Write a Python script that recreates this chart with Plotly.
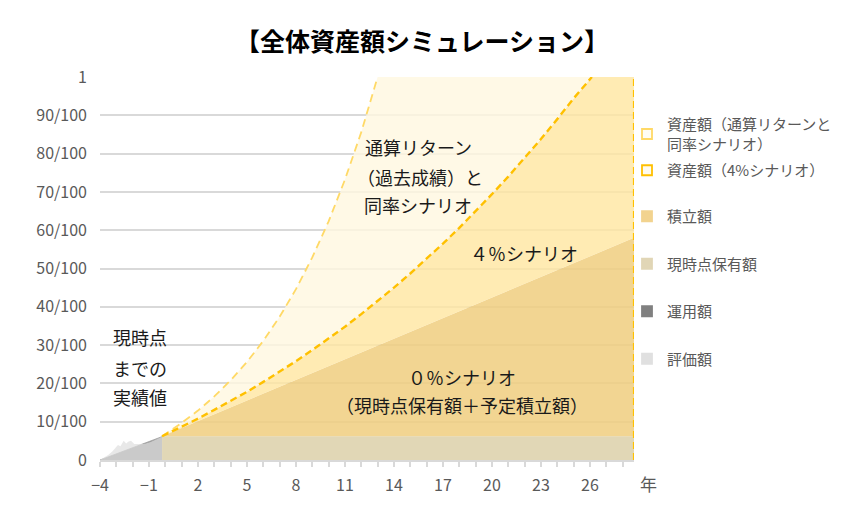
import plotly.graph_objects as go

FONT = "Noto Sans CJK JP"

title_text = "【全体資産額シミュレーション】"

# ---- historical (actual) period ----
x_hist = [-4.0, -3.5, -3.25, -3.0, -2.9, -2.75, -2.55, -2.4, -2.25, -2.1, -1.9, -1.6, -1.3, -0.9, -0.5, -0.2]
hyoka = [0.0, 0.013, 0.022, 0.035, 0.039, 0.036, 0.050, 0.043, 0.048, 0.050, 0.042, 0.042, 0.042, 0.047, 0.054, 0.061]
unyo = [0.0, 0.008, 0.012, 0.016, 0.0175, 0.020, 0.023, 0.0255, 0.028, 0.030, 0.033, 0.038, 0.043, 0.049, 0.055, 0.061]

# ---- projection period ----
x_proj = [-0.2, 1, 2, 3, 4, 5, 6, 7, 8, 9, 10, 11, 12, 13, 14, 15, 16, 17, 18, 19, 20,
          21, 22, 23, 24, 25, 26, 26.12, 27, 28, 28.7]
holding = [0.062, 0.062, 0.062, 0.062, 0.062, 0.062, 0.062, 0.062, 0.062, 0.062, 0.062,
           0.062, 0.062, 0.062, 0.062, 0.062, 0.062, 0.062, 0.062, 0.062, 0.062,
           0.062, 0.062, 0.062, 0.062, 0.062, 0.062, 0.062, 0.062, 0.062, 0.062]
tsumitate = [0.0, 0.0215, 0.039, 0.057, 0.075, 0.093, 0.111, 0.129, 0.147, 0.165, 0.183,
             0.201, 0.219, 0.237, 0.254, 0.272, 0.290, 0.308, 0.326, 0.344, 0.362,
             0.380, 0.398, 0.416, 0.434, 0.452, 0.470, 0.472, 0.487, 0.505, 0.518]
scen4 = [0.062, 0.087, 0.108, 0.131, 0.154, 0.178, 0.204, 0.230, 0.258, 0.287, 0.317,
         0.348, 0.381, 0.415, 0.450, 0.487, 0.525, 0.565, 0.606, 0.649, 0.694,
         0.740, 0.788, 0.838, 0.890, 0.944, 0.994, 1.0, 1.0, 1.0, 1.0]
scen_hist = [0.062, 0.097, 0.129, 0.166, 0.208, 0.256, 0.311, 0.374, 0.446, 0.529, 0.623,
             0.732, 0.856, 1.0, 1.0, 1.0, 1.0, 1.0, 1.0, 1.0, 1.0,
             1.0, 1.0, 1.0, 1.0, 1.0, 1.0, 1.0, 1.0, 1.0, 1.0]

y_tickvals = [0, 0.1, 0.2, 0.3, 0.4, 0.5, 0.6, 0.7, 0.8, 0.9, 1.0]
y_ticktext = ["0", "10/100", "20/100", "30/100", "40/100", "50/100", "60/100",
              "70/100", "80/100", "90/100", "1"]

legend_names = ["資産額（通算リターンと<br>同率シナリオ）", "資産額（4%シナリオ）",
                "積立額", "現時点保有額", "運用額", "評価額"]

tsumitate_top = [h + t for h, t in zip(holding, tsumitate)]


def line_part(vals):
    out = []
    reached = False
    for v in vals:
        out.append(None if reached else v)
        if v >= 1.0:
            reached = True
    return out


fig = go.Figure()

# historical areas
fig.add_trace(go.Scatter(x=x_hist, y=unyo, mode="lines", line=dict(width=0.8, color="#999999"),
                         fill="tozeroy", fillcolor="#999999", showlegend=False, hoverinfo="skip"))
fig.add_trace(go.Scatter(x=x_hist, y=hyoka, mode="lines", line=dict(width=0),
                         fill="tozeroy", fillcolor="rgba(222,222,222,0.7)", showlegend=False,
                         hoverinfo="skip"))

# projection areas
fig.add_trace(go.Scatter(x=x_proj, y=holding, mode="lines", line=dict(width=0),
                         fill="tozeroy", fillcolor="rgba(220,208,169,0.85)", showlegend=False))
fig.add_trace(go.Scatter(x=x_proj, y=tsumitate_top, mode="lines", line=dict(width=0),
                         fill="tonexty", fillcolor="rgba(240,206,127,0.85)", showlegend=False))
fig.add_trace(go.Scatter(x=x_proj, y=scen4, mode="lines", line=dict(width=0),
                         fill="tonexty", fillcolor="rgba(255,230,160,0.8)", showlegend=False))
fig.add_trace(go.Scatter(x=x_proj, y=scen_hist, mode="lines", line=dict(width=0),
                         fill="tonexty", fillcolor="rgba(255,247,224,0.8)", showlegend=False))

# dashed lines
fig.add_trace(go.Scatter(x=x_proj, y=line_part(scen_hist), mode="lines",
                         line=dict(color="#FFD966", width=1.8, dash="8px,5px"),
                         showlegend=False, connectgaps=False))
fig.add_trace(go.Scatter(x=x_proj, y=line_part(scen4), mode="lines",
                         line=dict(color="#FFC000", width=2.4, dash="7px,4px"),
                         showlegend=False, connectgaps=False))
fig.add_trace(go.Scatter(x=[x_proj[-1], x_proj[-1]], y=[0, scen4[-1]], mode="lines",
                         line=dict(color="#FFC000", width=2.2, dash="7px,4px"),
                         showlegend=False))

# legend-only traces
leg_styles = [
    ("legend", "#FFFDF4", "#FFD966"),
    ("legend", "#FFFBEF", "#FFC000"),
    ("legend2", "#F2D38F", "#F2D38F"),
    ("legend2", "#E1D6B6", "#E1D6B6"),
    ("legend2", "#808080", "#808080"),
    ("legend2", "#E0E0E0", "#E0E0E0"),
]
for i, (name, (lg, fc, lc)) in enumerate(zip(legend_names, leg_styles)):
    fig.add_trace(go.Scatter(x=[None], y=[None], mode="markers", name=name, legend=lg,
                             legendgroup="g%d" % i,
                             marker=dict(symbol="square", size=10, color=fc,
                                         line=dict(color=lc, width=1.8))))

# page offset of the figure inside the browser (body margin)
OFF = 8
W, H = 841, 518


# plot area in screenshot pixels: x 100..634, y 77..460
def px2paper(px, py):
    return (px - 100) / 534.0, (460 - py) / 383.0


def px2container(px, py):
    return (px - OFF) / W, 1 - (py - OFF) / H


annots = [
    ("現時点", 140, 337), ("までの", 140, 368), ("実績値", 140, 397),
    ("通算リターン", 418, 147), ("（過去成績）と", 420, 177), ("同率シナリオ", 418, 205),
    ("４％シナリオ", 524, 253),
    ("０％シナリオ", 462, 377), ("（現時点保有額＋予定積立額）", 462, 405),
]
annotations = []
for txt, px, py in annots:
    xp, yp = px2paper(px, py)
    annotations.append(dict(text=txt, x=xp, y=yp, xref="paper", yref="paper",
                            xanchor="center", yanchor="middle", showarrow=False,
                            font=dict(family=FONT, size=18, color="#1A1A1A")))
xp, yp = px2paper(648, 483)
annotations.append(dict(text="年", x=xp, y=yp, xref="paper", yref="paper",
                        xanchor="center", yanchor="middle", showarrow=False,
                        font=dict(family=FONT, size=17, color="#595959")))
xp, yp = px2paper(422, 40)
annotations.append(dict(text="<b>" + title_text + "</b>", x=xp, y=yp, xref="paper", yref="paper",
                        xanchor="center", yanchor="middle", showarrow=False,
                        font=dict(family=FONT, size=25, color="#000000")))

lx, ly = px2container(627, 108)
lx2, ly2 = px2container(627, 200)

fig.update_layout(
    width=W, height=H,
    margin=dict(l=100 - OFF, r=W - 634 + OFF, t=77 - OFF, b=H - 460 + OFF, autoexpand=False),
    paper_bgcolor="white", plot_bgcolor="white",
    font=dict(family=FONT, color="#595959"),
    annotations=annotations,
    legend=dict(x=lx, y=ly, xanchor="left", yanchor="top", xref="container", yref="container",
                font=dict(family=FONT, size=15, color="#595959"), tracegroupgap=4,
                itemwidth=30, bgcolor="rgba(0,0,0,0)"),
    legend2=dict(x=lx2, y=ly2, xanchor="left", yanchor="top", xref="container", yref="container",
                 font=dict(family=FONT, size=15, color="#595959"), tracegroupgap=25,
                 itemwidth=30, bgcolor="rgba(0,0,0,0)"),
    xaxis=dict(range=[-4, 28.7], tickmode="linear", tick0=-4, dtick=3,
               ticks="outside", ticklen=5, tickcolor="#D9D9D9", tickwidth=1.5,
               showline=True, linecolor="#D9D9D9", linewidth=1.5,
               showgrid=False, zeroline=False,
               minor=dict(dtick=1, ticks="outside", ticklen=5, tickcolor="#D9D9D9",
                          tickwidth=1.5, showgrid=False),
               tickfont=dict(family=FONT, size=16, color="#595959"),
               ticklabelstandoff=5, fixedrange=True),
    yaxis=dict(range=[0, 1], tickmode="array", tickvals=y_tickvals, ticktext=y_ticktext,
               showgrid=True, gridcolor="#D9D9D9", gridwidth=1.5, zeroline=False,
               showline=False, ticks="",
               tickfont=dict(family=FONT, size=16, color="#595959"),
               ticklabelstandoff=12, fixedrange=True),
)

fig.write_html("out.html")
